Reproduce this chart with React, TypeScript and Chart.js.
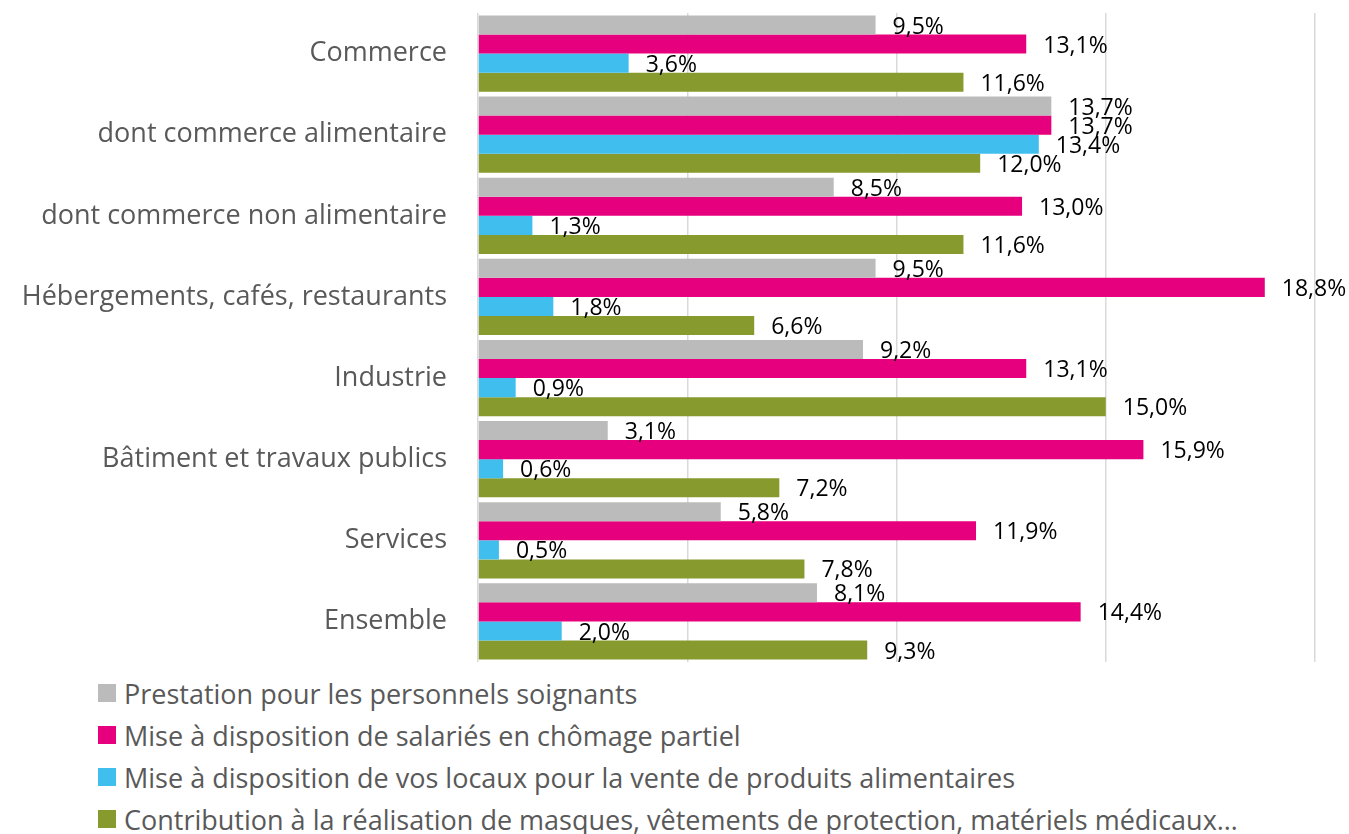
import React, { useEffect, useRef } from "react";
import { Chart, registerables } from "chart.js";

Chart.register(...registerables);

const categories = [
  "Commerce",
  "dont commerce alimentaire",
  "dont commerce non alimentaire",
  "Hébergements, cafés, restaurants",
  "Industrie",
  "Bâtiment et travaux publics",
  "Services",
  "Ensemble",
];

const seriesNames = [
  "Prestation pour les personnels soignants",
  "Mise à disposition de salariés en chômage partiel",
  "Mise à disposition de vos locaux pour la vente de produits alimentaires",
  "Contribution à la réalisation de masques, vêtements de protection, matériels médicaux…",
];

const soignants = [9.5, 13.7, 8.5, 9.5, 9.2, 3.1, 5.8, 8.1];
const chomage = [13.1, 13.7, 13.0, 18.8, 13.1, 15.9, 11.9, 14.4];
const locaux = [3.6, 13.4, 1.3, 1.8, 0.9, 0.6, 0.5, 2.0];
const masques = [11.6, 12.0, 11.6, 6.6, 15.0, 7.2, 7.8, 9.3];

const colors = ["#BBBBBB", "#E6007E", "#40BFEF", "#869A2E"];

const FONT = "'Open Sans', sans-serif";

const labelPlugin = {
  id: "barLabels",
  afterDatasetsDraw(chart: any) {
    const ctx = chart.ctx;
    ctx.save();
    ctx.font = `23px ${FONT}`;
    ctx.fillStyle = "#000000";
    ctx.textAlign = "left";
    ctx.textBaseline = "middle";
    chart.data.datasets.forEach((ds: any, i: number) => {
      const meta = chart.getDatasetMeta(i);
      meta.data.forEach((el: any, j: number) => {
        const v = ds.data[j];
        const txt = v.toFixed(1).replace(".", ",") + "%";
        ctx.fillText(txt, el.x + 17, el.y + 2);
      });
    });
    ctx.restore();
  },
};

export default function App() {
  const ref = useRef<HTMLCanvasElement>(null);

  useEffect(() => {
    document.body.style.margin = "0";
    const values = [soignants, chomage, locaux, masques];
    const chart = new Chart(ref.current!, {
      type: "bar",
      data: {
        labels: categories,
        datasets: values.map((d, i) => ({
          label: seriesNames[i],
          data: d,
          backgroundColor: colors[i],
          borderWidth: 0,
          categoryPercentage: 0.94,
          barPercentage: 1,
        })),
      },
      options: {
        indexAxis: "y",
        animation: false,
        responsive: false,
        maintainAspectRatio: false,
        layout: { padding: { top: 13, bottom: 8, right: 34, left: 0 } },
        plugins: {
          legend: { display: false },
          tooltip: { enabled: false },
        },
        scales: {
          x: {
            min: 0,
            max: 20,
            ticks: { stepSize: 5, display: false },
            grid: { color: "#D9D9D9", lineWidth: 1.5, drawTicks: false },
            border: { display: false },
            afterFit(scale: any) {
              scale.height = 0;
              scale.paddingLeft = 0;
              scale.paddingRight = 0;
            },
          },
          y: {
            grid: { display: false, drawTicks: false },
            border: { display: false },
            ticks: {
              font: { family: FONT, size: 27 },
              color: "#595959",
              padding: 31,
            },
            afterFit(scale: any) {
              scale.width = 478;
              scale.paddingTop = 0;
              scale.paddingBottom = 0;
            },
          },
        },
      },
      plugins: [labelPlugin],
    });
    return () => chart.destroy();
  }, []);

  return (
    <div style={{ width: 1349, fontFamily: FONT }}>
      <canvas ref={ref} width={1349} height={670} style={{ display: "block" }} />
      <div style={{ marginLeft: 98, marginTop: 2 }}>
        {seriesNames.map((n, i) => (
          <div
            key={n}
            style={{
              display: "flex",
              alignItems: "center",
              height: 42,
              fontSize: 27,
              color: "#595959",
              whiteSpace: "nowrap",
            }}
          >
            <span
              style={{
                display: "inline-block",
                width: 18,
                height: 18,
                background: colors[i],
                marginRight: 8,
              }}
            />
            {n}
          </div>
        ))}
      </div>
    </div>
  );
}
